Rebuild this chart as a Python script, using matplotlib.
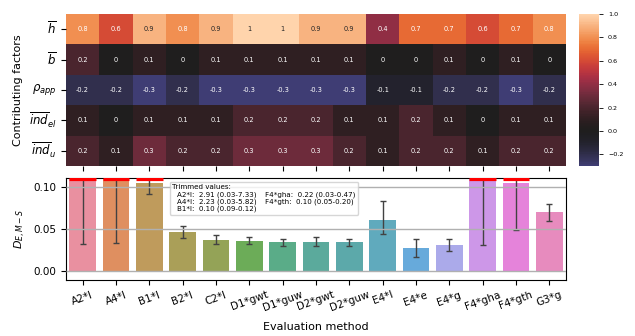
import numpy as np
import matplotlib
matplotlib.use("Agg")
import matplotlib.pyplot as plt
from matplotlib.lines import Line2D
import seaborn as sns

# --- data -------------------------------------------------------------
methods = ["A2*l", "A4*l", "B1*l", "B2*l", "C2*l", "D1*gwt", "D1*guw",
           "D2*gwt", "D2*guw", "E4*l", "E4*e", "E4*g", "F4*gha", "F4*gth", "G3*g"]

factor_labels = [r"$\overline{h}$", r"$\overline{b}$", r"$\rho_{app}$",
                 r"$\overline{ind}_{el}$", r"$\overline{ind}_{u}$"]

h_bar   = [0.8, 0.6, 0.9, 0.8, 0.9, 1, 1, 0.9, 0.9, 0.4, 0.7, 0.7, 0.6, 0.7, 0.8]
b_bar   = [0.2, 0, 0.1, 0, 0.1, 0.1, 0.1, 0.1, 0.1, 0, 0, 0.1, 0, 0.1, 0]
rho_app = [-0.2, -0.2, -0.3, -0.2, -0.3, -0.3, -0.3, -0.3, -0.3, -0.1, -0.1, -0.2, -0.2, -0.3, -0.2]
ind_el  = [0.1, 0, 0.1, 0.1, 0.1, 0.2, 0.2, 0.2, 0.1, 0.1, 0.2, 0.1, 0, 0.1, 0.1]
ind_u   = [0.2, 0.1, 0.3, 0.2, 0.2, 0.3, 0.3, 0.3, 0.2, 0.1, 0.2, 0.2, 0.1, 0.2, 0.2]

d_mean = [2.91, 2.23, 0.104, 0.047, 0.0375, 0.0364, 0.0344, 0.0348, 0.0344,
          0.0609, 0.0273, 0.0316, 0.22, 0.1045, 0.0696]
d_low  = [0.032, 0.033, 0.091, 0.0395, 0.0328, 0.0324, 0.0304, 0.0304, 0.0304,
          0.0447, 0.017, 0.0245, 0.031, 0.049, 0.060]
d_high = [7.33, 5.82, 0.118, 0.054, 0.0427, 0.0403, 0.0387, 0.0403, 0.0387,
          0.0834, 0.038, 0.0387, 0.47, 0.197, 0.080]

y_lim = (-0.01, 0.11)

# --- figure -----------------------------------------------------------
fig = plt.figure(figsize=(6.35, 3.36), dpi=100)
ax_h = fig.add_axes([0.1039, 0.506, 0.7874, 0.4523])
ax_c = fig.add_axes([0.9118, 0.506, 0.0315, 0.4523])
ax_b = fig.add_axes([0.1039, 0.1667, 0.7874, 0.3035])

heat = np.array([h_bar, b_bar, rho_app, ind_el, ind_u])
sns.heatmap(heat, ax=ax_h, cbar_ax=ax_c, center=0, annot=True, fmt="g",
            annot_kws={"size": 4.8}, xticklabels=False, yticklabels=factor_labels)
ax_h.set_xticks(np.arange(len(methods)) + 0.5)
ax_h.set_xticklabels([])
ax_h.tick_params(axis="x", length=3.5, width=0.8)
ax_h.tick_params(axis="y", length=3.5, width=0.8, labelsize=8.5, rotation=0)
ax_h.set_ylabel("Contributing factors", fontsize=8)
ax_c.tick_params(labelsize=4.6, length=3, width=0.6)

# --- bar chart --------------------------------------------------------
x = np.arange(len(methods))
colors = [sns.desaturate(c, 0.75) for c in sns.color_palette("husl", len(methods))]
mean = np.array(d_mean)
yerr = np.vstack([mean - np.array(d_low), np.array(d_high) - mean])
ax_b.bar(x, mean, width=0.8, color=colors, alpha=0.88, zorder=1)
ax_b.errorbar(x, mean, yerr=yerr, fmt="none", ecolor="#424242", elinewidth=1.0,
              capsize=2.5, capthick=1.0, zorder=2)
ax_b.set_ylim(*y_lim)
ax_b.set_xlim(-0.5, len(methods) - 0.5)

# red marker on bars whose extent runs past the top of the axis
trimmed = [i for i in range(len(methods)) if d_high[i] > y_lim[1]]
ax_b.hlines([y_lim[1] - 0.0015] * len(trimmed), x[trimmed] - 0.4, x[trimmed] + 0.4,
            color="red", lw=2.3, zorder=3)

ax_b.set_axisbelow(False)
ax_b.yaxis.grid(True, color="#b0b0b0", lw=1.0, zorder=2.5)
ax_b.set_yticks([0.0, 0.05, 0.10])
ax_b.set_yticklabels(["0.00", "0.05", "0.10"])
ax_b.set_xticks(x)
ax_b.set_xticklabels(methods, rotation=20, ha="center")
ax_b.tick_params(labelsize=7.5, length=3.5, width=0.8)
ax_b.set_ylabel(r"$D_{E,M-S}$", fontsize=8)
ax_b.set_xlabel("Evaluation method", fontsize=8, labelpad=6)

handles = [Line2D([], [], alpha=0) for _ in trimmed]
labels = [f"{methods[i]}:  {d_mean[i]:.2f} ({d_low[i]:.2f}-{d_high[i]:.2f})" for i in trimmed]
ax_b.legend(handles, labels, ncol=2, title="Trimmed values:", alignment="left",
            fontsize=5.1, title_fontsize=5.1, loc="upper left",
            bbox_to_anchor=(0.2, 1.0), handlelength=0.6, handletextpad=0.0,
            columnspacing=0.6, labelspacing=0.1, borderpad=0.4)

fig.savefig("out.png", dpi=100)
